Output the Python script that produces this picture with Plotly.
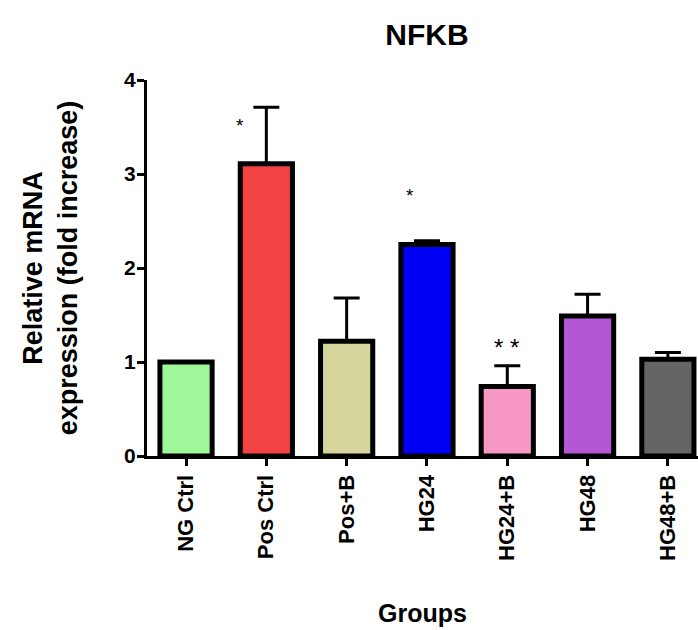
import plotly.graph_objects as go

groups = ["NG Ctrl", "Pos Ctrl", "Pos+B", "HG24", "HG24+B", "HG48", "HG48+B"]
means = [1.00, 3.11, 1.22, 2.25, 0.74, 1.49, 1.03]
upper = [1.00, 3.71, 1.68, 2.29, 0.96, 1.72, 1.10]
colors = ["#9EF89A", "#F24242", "#D5D49A", "#0000F4", "#F798C5", "#B556D5", "#656565"]

sig_labels = ["*", "*", "* *"]
sig_groups = ["Pos Ctrl", "HG24", "HG24+B"]
sig_y = [3.55, 2.80, 1.20]

FONT = "Liberation Sans, Arial, sans-serif"

fig = go.Figure()
fig.add_trace(go.Bar(
    x=groups,
    y=means,
    width=0.65,
    marker=dict(color=colors, line=dict(color="black", width=5)),
    error_y=dict(
        type="data",
        symmetric=False,
        array=[u - m for u, m in zip(upper, means)],
        arrayminus=[0] * len(means),
        color="black",
        thickness=3,
        width=13,
    ),
    showlegend=False,
))

sig_style = {"*": dict(size=19, yshift=-3), "* *": dict(size=24, yshift=-4)}
sig_xshift = {"Pos Ctrl": -26, "HG24": -17, "HG24+B": -1}
for lab, g, yv in zip(sig_labels, sig_groups, sig_y):
    st = sig_style[lab]
    fig.add_annotation(
        x=g, y=yv, text=lab, showarrow=False,
        xshift=sig_xshift[g], yshift=st["yshift"],
        font=dict(family=FONT, size=st["size"], color="black"),
    )

fig.update_layout(
    width=698, height=630,
    margin=dict(l=147, r=0, t=80, b=174),
    paper_bgcolor="white",
    plot_bgcolor="white",
    title=dict(
        text="NFKB", x=427 / 698, xanchor="center", y=1 - 34 / 630, yanchor="middle",
        font=dict(family=FONT, size=30, color="black", weight="bold"),
    ),
    xaxis=dict(
        range=[-0.486, 6.375],
        showline=True, linecolor="black", linewidth=3,
        ticks="outside", ticklen=7, tickwidth=3, tickcolor="black",
        tickangle=-90,
        tickfont=dict(family=FONT, size=22, color="black", weight="bold"),
        showgrid=False, zeroline=False,
        title=dict(text="Groups", standoff=45,
                   font=dict(family=FONT, size=25, color="black", weight="bold")),
    ),
    yaxis=dict(
        range=[0, 4],
        tickvals=[0, 1, 2, 3, 4],
        showline=True, linecolor="black", linewidth=3,
        ticks="outside", ticklen=7, tickwidth=3, tickcolor="black",
        ticklabelstandoff=-3,
        tickfont=dict(family=FONT, size=21, color="black", weight="bold"),
        showgrid=False, zeroline=False,
        title=dict(text="Relative mRNA<br>expression (fold increase)", standoff=39,
                   font=dict(family=FONT, size=27, color="black", weight="bold")),
    ),
)

fig.write_html("out.html", config={"displayModeBar": False},
               post_script="document.body.style.margin='0px';")
